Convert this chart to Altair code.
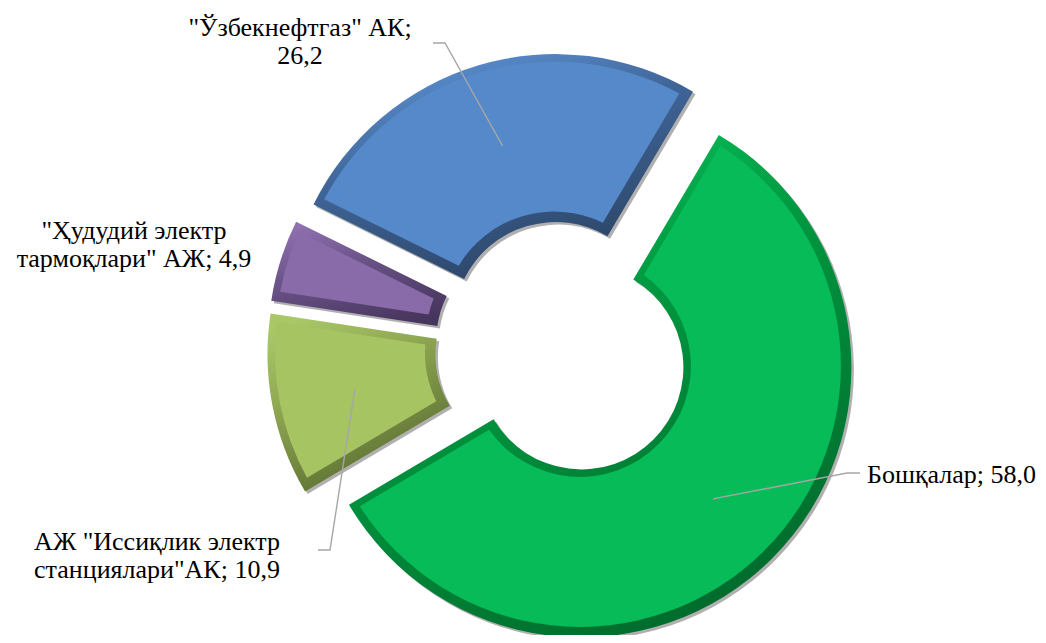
import math
import altair as alt
import pandas as pd

# ---------------- data ----------------
categories = [
    "Бошқалар",
    "АЖ \"Иссиқлик электр станциялари\"АК",
    "\"Ҳудудий электр тармоқлари\" АЖ",
    "\"Ўзбекнефтгаз\" АК",
]
values = [58.0, 10.9, 4.9, 26.2]
label_texts = [
    "Бошқалар; 58,0",
    "АЖ \"Иссиқлик электр\nстанциялари\"АК; 10,9",
    "\"Ҳудудий электр\nтармоқлари\" АЖ; 4,9",
    "\"Ўзбекнефтгаз\" АК;\n26,2",
]

# ---------------- styles / layout ----------------
face_colors = ["#07BB58", "#A6C462", "#8A6BAA", "#5589CA"]
light_colors = ["#0CC862", "#A9C767", "#8F70B0", "#5E95D8"]
mid_colors = ["#00963F", "#8AA24E", "#6A5388", "#3F6496"]
dark_colors = ["#00672B", "#52632D", "#46355C", "#29405F"]
W, H = 1030, 627
CX, CY = 555, 341          # pie centre inside the view (px)
R_OUT, R_IN = 270, 102
EXPLODE = 26
START_DEG = 30.6
BEVEL = 9
FONT = "'Liberation Serif', 'Times New Roman', serif"
# label anchors relative to pie centre (px, y downwards)
label_x = [304, -406, -429, -263]
label_y = [134, 201, -110, -313]
label_align = ["left", "center", "center", "center"]
elbow_x = [284, -233, None, -118]
elbow_y = [124, 201, None, -306]
end_x = [297, -245, None, -130]
end_y = [124, 201, None, -306]

# ---------------- derived geometry ----------------
total = sum(values)
a0 = math.radians(START_DEG)
rows = []
cum = 0.0
for i, (c, v) in enumerate(zip(categories, values)):
    fs = cum / total
    cum += v
    fe = cum / total
    mid = a0 + 2 * math.pi * (fs + fe) / 2
    dx = EXPLODE * math.sin(mid)
    dy = -EXPLODE * math.cos(mid)
    rows.append(dict(cat=c, value=v, fs=fs, fe=fe, mid=mid, dx=dx, dy=dy,
                     label=label_texts[i], lx=label_x[i], ly=label_y[i],
                     align=label_align[i]))
df = pd.DataFrame(rows)

lead_rows = []
rm = (R_OUT + R_IN) / 2
for i, row in enumerate(rows):
    if elbow_x[i] is None:
        continue
    sx = row["dx"] + rm * math.sin(row["mid"])
    sy = row["dy"] - rm * math.cos(row["mid"])
    lead_rows += [
        dict(cat=row["cat"], seq=0, x=sx, y=sy),
        dict(cat=row["cat"], seq=1, x=elbow_x[i], y=elbow_y[i]),
        dict(cat=row["cat"], seq=2, x=end_x[i], y=end_y[i]),
    ]
lead = pd.DataFrame(lead_rows)

xs = alt.Scale(domain=[-CX, W - CX], range=[0, W], nice=False, zero=False)
ys = alt.Scale(domain=[-CY, H - CY], range=[0, H], nice=False, zero=False)
ts = alt.Scale(domain=[0, 1], range=[a0, a0 + 2 * math.pi])

base = alt.Chart(df).encode(
    x=alt.X("dx:Q", scale=xs, axis=None),
    y=alt.Y("dy:Q", scale=ys, axis=None),
    theta=alt.Theta("fs:Q", scale=ts),
    theta2="fe:Q",
)

shadow = base.mark_arc(radius=R_OUT, radius2=R_IN, fill="#B0B0B0",
                       xOffset=2.5, yOffset=2.5)

layers = [shadow]
for i, c in enumerate(categories):
    grad = alt.Gradient(
        gradient="linear", x1=0.25, y1=0, x2=0.75, y2=1,
        stops=[
            alt.GradientStop(offset=0, color=light_colors[i]),
            alt.GradientStop(offset=0.4, color=mid_colors[i]),
            alt.GradientStop(offset=1, color=dark_colors[i]),
        ],
    )
    bevel = base.transform_filter(alt.datum.cat == c).mark_arc(
        radius=R_OUT, radius2=R_IN, fill=grad)
    layers.append(bevel)

face = base.mark_arc(radius=R_OUT - BEVEL, radius2=R_IN + BEVEL, padAngle=0.062,
                     xOffset=-1.5, yOffset=-1.5).encode(
    fill=alt.Fill("cat:N", scale=alt.Scale(domain=categories, range=face_colors),
                  legend=None))
layers.append(face)

lines = alt.Chart(lead).mark_line(color="#A6A6A6", strokeWidth=1.4).encode(
    x=alt.X("x:Q", scale=xs, axis=None),
    y=alt.Y("y:Q", scale=ys, axis=None),
    detail="cat:N",
    order="seq:Q",
)
layers.append(lines)

def text_layer(al):
    return alt.Chart(df).transform_filter(alt.datum.align == al).mark_text(
        font=FONT, fontSize=26, lineBreak="\n", lineHeight=28,
        align=al, baseline="alphabetic", color="#000000",
    ).encode(
        x=alt.X("lx:Q", scale=xs, axis=None),
        y=alt.Y("ly:Q", scale=ys, axis=None),
        text="label:N",
    )

layers += [text_layer("center"), text_layer("left")]

chart = alt.layer(*layers).properties(
    width=W, height=H, padding=0,
    autosize=alt.AutoSizeParams(type="none"),
    background="white",
).configure_view(stroke=None)

chart.save("out.html", embed_options={"renderer": "svg", "actions": False})
